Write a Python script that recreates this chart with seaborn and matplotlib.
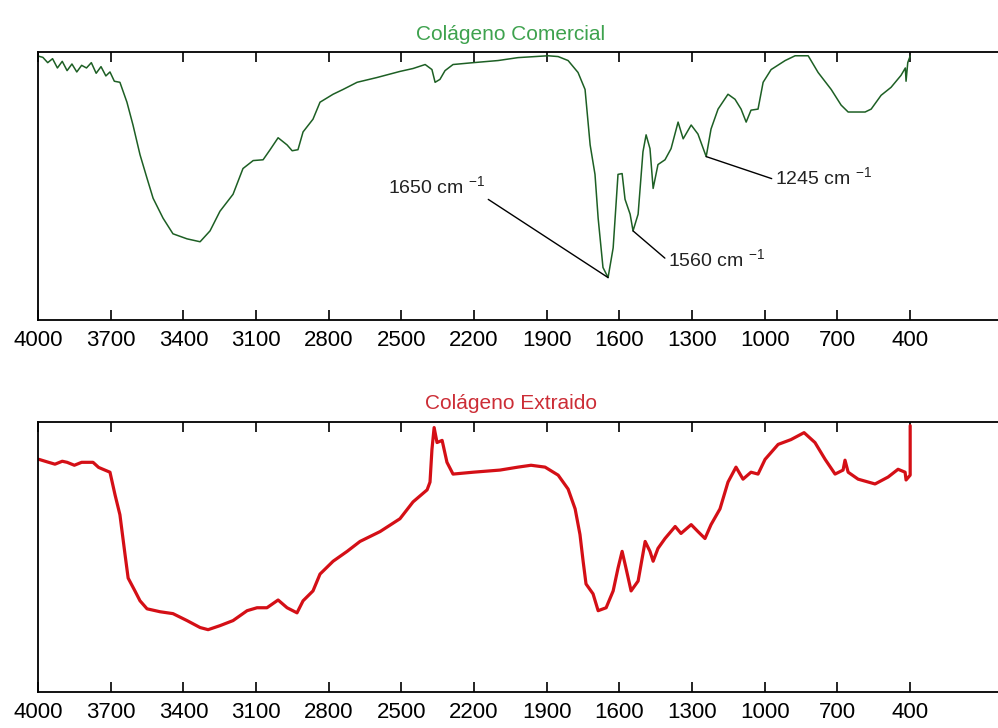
import numpy as np
import pandas as pd
import matplotlib
matplotlib.use("Agg")
import matplotlib.pyplot as plt
import seaborn as sns

# ---------------- data ----------------
ticks = [4000, 3700, 3400, 3100, 2800, 2500, 2200, 1900, 1600, 1300, 1000, 700, 400]

com_wn = [4000, 3980, 3960, 3940, 3920, 3900, 3880, 3860, 3840, 3820, 3800, 3780, 3760,
          3740, 3720, 3703, 3685, 3662, 3633, 3608, 3579, 3550, 3525, 3484, 3443, 3385,
          3331, 3290, 3249, 3195, 3154, 3112, 3071, 3042, 3009, 2972, 2951, 2927, 2906,
          2865, 2836, 2782, 2741, 2683, 2601, 2506, 2452, 2402, 2374, 2361, 2341, 2320,
          2287, 2204, 2101, 2019, 1895, 1853, 1812, 1771, 1742, 1721, 1701, 1688, 1668,
          1647, 1626, 1606, 1589, 1577, 1556, 1544, 1523, 1503, 1490, 1474, 1461, 1441,
          1412, 1387, 1358, 1337, 1304, 1276, 1242, 1222, 1193, 1152, 1123, 1098, 1077,
          1057, 1028, 1007, 974, 916, 875, 821, 780, 726, 685, 656, 586, 561, 520, 479,
          438, 420, 417, 410, 400]
com_t = [99.5, 99.0, 97.0, 98.5, 95.0, 97.5, 94.0, 96.5, 93.5, 96.0, 95.0, 97.0, 93.0,
         95.5, 92.0, 93.5, 90.0, 89.6, 82.1, 73.5, 62.3, 53.4, 45.9, 38.4, 32.5, 30.6,
         29.5, 33.6, 41.0, 47.4, 57.1, 60.1, 60.4, 64.2, 68.7, 66.0, 63.8, 64.2, 70.9,
         75.7, 82.1, 85.1, 86.9, 89.6, 91.4, 93.7, 94.8, 96.3, 94.4, 89.6, 90.7, 94.0,
         96.3, 97.0, 97.8, 98.9, 99.6, 99.3, 97.8, 93.3, 86.9, 66.0, 54.9, 38.4, 19.8,
         16.0, 27.2, 54.9, 55.2, 45.5, 39.9, 33.6, 39.9, 63.4, 69.8, 64.6, 49.6, 58.6,
         60.4, 64.6, 74.6, 68.3, 73.5, 70.1, 61.6, 72.0, 79.5, 85.1, 83.2, 79.5, 74.6,
         79.1, 79.5, 89.6, 94.4, 97.8, 99.6, 99.6, 93.3, 86.9, 81.0, 78.4, 78.4, 79.5,
         84.7, 87.7, 92.2, 95.0, 90.0, 97.0, 99.5]

ext_wn = [3996, 3960, 3930, 3900, 3880, 3850, 3820, 3798, 3773, 3750, 3732, 3703, 3682,
          3662, 3641, 3628, 3600, 3579, 3550, 3496, 3443, 3385, 3331, 3298, 3249, 3195,
          3137, 3096, 3055, 3009, 2972, 2931, 2906, 2865, 2836, 2782, 2724, 2671, 2588,
          2506, 2452, 2394, 2382, 2374, 2365, 2353, 2332, 2312, 2287, 2204, 2093, 2019,
          1965, 1907, 1853, 1812, 1783, 1763, 1750, 1738, 1709, 1688, 1655, 1626, 1606,
          1589, 1573, 1552, 1523, 1494, 1474, 1461, 1441, 1412, 1370, 1346, 1304, 1276,
          1247, 1222, 1185, 1152, 1119, 1090, 1057, 1028, 999, 945, 892, 838, 793, 751,
          710, 677, 669, 656, 615, 545, 491, 450, 421, 417, 400, 400]
ext_t = [87.0, 86.0, 85.2, 86.3, 85.9, 84.8, 85.9, 85.9, 85.9, 84.0, 83.3, 82.2, 73.7,
         66.3, 51.5, 42.6, 37.8, 34.1, 31.1, 30.0, 29.3, 26.7, 24.1, 23.3, 24.8, 26.7,
         30.4, 31.5, 31.5, 34.4, 31.5, 29.6, 34.1, 37.8, 44.1, 48.9, 52.6, 56.3, 60.0,
         64.8, 71.1, 75.6, 78.5, 90.7, 98.9, 93.3, 94.1, 85.9, 81.5, 82.2, 83.0, 84.1,
         84.8, 84.1, 81.1, 75.9, 68.5, 58.9, 48.9, 40.4, 36.7, 30.4, 31.5, 37.8, 46.3,
         52.6, 46.3, 37.8, 41.5, 56.3, 52.6, 48.9, 53.7, 57.4, 61.9, 59.3, 62.6, 60.0,
         57.4, 62.6, 68.5, 78.5, 84.1, 79.6, 82.2, 81.5, 87.0, 92.6, 94.4, 97.0, 93.3,
         87.0, 81.5, 83.0, 86.7, 82.2, 79.6, 77.8, 80.4, 83.3, 82.2, 79.3, 81.1, 99.6]

titles = ["Colágeno Comercial", "Colágeno Extraido"]
peak_labels = ["1650 cm $^{-1}$", "1560 cm $^{-1}$", "1245 cm $^{-1}$"]
peak_wn = [1647, 1544, 1242]
peak_t = [16.0, 33.6, 61.6]
label_wn = [2155, 1399, 958]
label_t = [50.4, 23.1, 53.7]

# ---------------- style ----------------
sns.set_theme(style="white")
plt.rcParams["font.family"] = ["Liberation Sans", "DejaVu Sans"]
plt.rcParams["mathtext.fontset"] = "custom"
plt.rcParams["mathtext.rm"] = "Liberation Sans"
plt.rcParams["mathtext.it"] = "Liberation Sans:italic"
plt.rcParams["mathtext.bf"] = "Liberation Sans:bold"

fig = plt.figure(figsize=(9.98, 7.28), dpi=100)
fig.patch.set_facecolor("white")

ax1 = fig.add_axes([0.0381, 0.5604, 0.971, 0.3681])
ax2 = fig.add_axes([0.0381, 0.0495, 0.971, 0.3709])

df1 = pd.DataFrame({"wn": com_wn, "t": com_t})
df2 = pd.DataFrame({"wn": ext_wn, "t": ext_t})

sns.lineplot(data=df1, x="wn", y="t", ax=ax1, sort=False, estimator=None,
             color="#1d5f24", linewidth=1.1)
sns.lineplot(data=df2, x="wn", y="t", ax=ax2, sort=False, estimator=None,
             color="#d40f16", linewidth=2.3)

title_colors = ["#3ea24e", "#cc2d36"]
for ax, title, tc in zip([ax1, ax2], titles, title_colors):
    ax.set_xlim(4000, 0)
    ax.set_ylim(0, 101)
    ax.set_xticks(ticks)
    ax.set_xticklabels([str(t) for t in ticks], fontsize=16, color="black")
    ax.set_yticks([])
    ax.set_xlabel("")
    ax.set_ylabel("")
    ax.tick_params(axis="x", which="both", direction="in", top=True, bottom=True,
                   length=7, width=1.2, color="black", pad=7)
    for s in ax.spines.values():
        s.set_color("black")
        s.set_linewidth(1.3)
    ax.spines["right"].set_visible(False)
    ax.set_title(title, color=tc, fontsize=15, pad=9, x=0.488)
    ax.set_facecolor("white")

for lab, pw, pt, lw_, lt in zip(peak_labels, peak_wn, peak_t, label_wn, label_t):
    if lw_ > pw:
        ha, rel = "right", (1.0, 0.0)
    else:
        ha, rel = "left", (0.0, 0.4)
    ax1.annotate(lab, xy=(pw, pt), xytext=(lw_, lt), textcoords="data",
                 ha=ha, va="center", fontsize=14, color="#222222",
                 arrowprops=dict(arrowstyle="-", color="black", lw=1.0,
                                 relpos=rel, shrinkA=0, shrinkB=0))

fig.savefig("out.png", dpi=100, facecolor="white")
